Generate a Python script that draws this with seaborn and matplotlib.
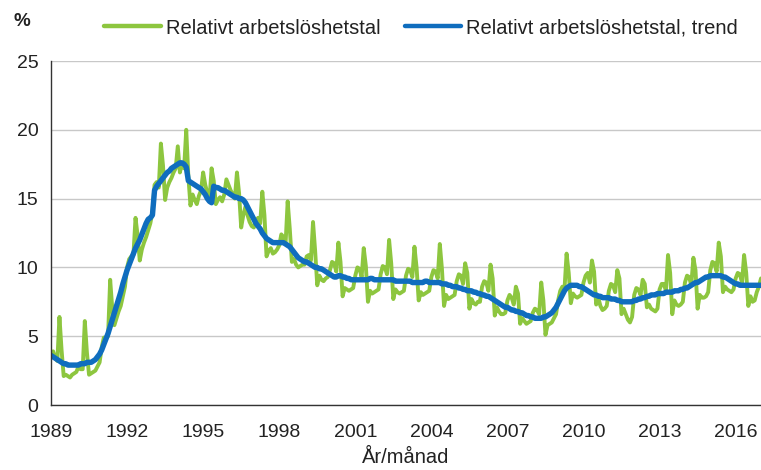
import matplotlib
matplotlib.use("Agg")
import matplotlib.pyplot as plt
from matplotlib import font_manager
import seaborn as sns
import numpy as np
import pandas as pd
from matplotlib.ticker import MultipleLocator, FuncFormatter

# ---------------- data (monthly, Jan 1989 - Jan 2017) ----------------
raw_values = [
    3.5, 3.9, 3.4, 3.2, 6.4, 4.0, 2.1, 2.2, 2.1, 2.0, 2.2, 2.3,        # 1989
    2.4, 2.8, 2.6, 2.6, 6.1, 3.8, 2.2, 2.3, 2.4, 2.5, 2.8, 3.1,        # 1990
    4.2, 4.9, 4.9, 5.0, 9.1, 7.0, 5.8, 6.3, 6.8, 7.2, 7.9, 8.6,        # 1991
    10.0, 10.6, 10.8, 10.9, 13.6, 12.3, 10.5, 11.3, 11.8, 12.2, 12.7, 13.2,  # 1992
    14.0, 16.0, 16.2, 15.8, 19.0, 17.4, 14.9, 15.8, 16.2, 16.5, 16.9, 17.2,  # 1993
    18.8, 16.9, 17.6, 17.2, 20.0, 16.6, 14.5, 15.3, 14.9, 14.6, 15.2, 15.6,  # 1994
    16.9, 16.0, 15.4, 14.9, 17.2, 16.3, 14.6, 14.9, 15.1, 14.8, 15.3, 16.4,  # 1995
    16.0, 15.6, 15.3, 15.0, 16.9, 15.4, 12.9, 13.8, 14.4, 13.8, 13.3, 13.0,  # 1996
    12.9, 13.4, 13.6, 13.2, 15.5, 13.8, 10.8, 11.2, 11.4, 11.0, 11.1, 11.3,  # 1997
    11.6, 12.4, 12.2, 11.7, 14.8, 12.8, 10.4, 10.6, 10.2, 10.0, 10.1, 10.2,  # 1998
    10.2, 10.8, 10.9, 10.5, 13.3, 11.2, 8.7, 9.4, 9.1, 9.0, 9.2, 9.3,        # 1999
    9.8, 10.4, 10.3, 9.7, 11.8, 10.4, 7.9, 8.5, 8.4, 8.3, 8.4, 8.5,          # 2000
    9.4, 10.0, 9.9, 9.3, 11.4, 10.1, 7.5, 8.3, 8.1, 8.2, 8.3, 8.4,           # 2001
    9.5, 10.1, 10.0, 9.5, 12.0, 10.3, 7.7, 8.4, 8.2, 8.1, 8.2, 8.3,          # 2002
    9.4, 9.9, 9.8, 9.3, 11.5, 10.0, 7.6, 8.2, 8.0, 8.1, 8.2, 8.3,            # 2003
    9.3, 9.8, 9.7, 9.2, 11.7, 9.9, 7.2, 8.0, 7.7, 7.8, 7.9, 8.0,             # 2004
    9.0, 9.5, 9.4, 8.8, 10.3, 9.6, 7.0, 7.7, 7.4, 7.3, 7.5, 7.5,             # 2005
    8.6, 9.0, 8.9, 8.3, 10.2, 9.2, 6.5, 7.1, 6.8, 6.6, 6.6, 6.7,             # 2006
    7.6, 8.0, 7.8, 7.3, 8.6, 8.1, 5.9, 6.3, 6.1, 5.9, 6.0, 6.1,              # 2007
    6.7, 7.0, 6.9, 6.6, 8.9, 7.6, 5.1, 5.8, 5.9, 6.0, 6.3, 6.6,              # 2008
    7.6, 8.3, 8.6, 8.4, 11.0, 9.6, 7.4, 8.1, 7.9, 7.8, 7.9, 8.0,             # 2009
    8.9, 9.4, 9.6, 8.9, 10.5, 9.7, 7.3, 7.8, 7.2, 6.9, 7.0, 7.2,             # 2010
    8.3, 8.8, 8.7, 8.2, 9.8, 9.2, 6.6, 7.0, 6.6, 6.2, 6.0, 6.4,              # 2011
    8.0, 8.5, 8.4, 8.0, 9.1, 8.8, 7.1, 7.3, 7.0, 6.9, 6.8, 7.0,              # 2012
    8.4, 8.8, 8.8, 8.3, 10.9, 9.6, 6.6, 7.6, 7.3, 7.2, 7.3, 7.5,             # 2013
    8.9, 9.4, 9.3, 8.7, 10.7, 9.8, 7.0, 8.0, 7.8, 7.8, 7.9, 8.2,             # 2014
    9.8, 10.4, 10.3, 9.7, 11.8, 10.8, 8.2, 8.6, 8.4, 8.3, 8.2, 8.4,          # 2015
    9.2, 9.6, 9.5, 8.9, 10.9, 9.6, 7.2, 7.9, 7.5, 7.6, 8.2, 8.6,             # 2016
    9.2,                                                                      # 2017
]

trend_values = [
    3.6, 3.5, 3.4, 3.3, 3.2, 3.1, 3.0, 3.0, 2.9, 2.9, 2.9, 2.9,        # 1989
    2.9, 2.9, 3.0, 3.0, 3.0, 3.1, 3.1, 3.1, 3.2, 3.3, 3.5, 3.7,        # 1990
    4.0, 4.4, 4.8, 5.2, 5.7, 6.2, 6.7, 7.2, 7.7, 8.2, 8.8, 9.3,        # 1991
    9.8, 10.2, 10.6, 11.0, 11.4, 11.7, 12.0, 12.4, 12.8, 13.2, 13.5, 13.6,  # 1992
    13.8, 15.6, 15.9, 16.1, 16.3, 16.5, 16.7, 16.9, 17.0, 17.2, 17.3, 17.4,  # 1993
    17.5, 17.6, 17.6, 17.5, 17.3, 16.3, 16.2, 16.1, 16.0, 15.9, 15.8, 15.7,  # 1994
    15.5, 15.3, 15.0, 14.8, 14.7, 15.9, 15.8, 15.8, 15.7, 15.6, 15.6, 15.5,  # 1995
    15.4, 15.3, 15.2, 15.1, 15.1, 15.0, 15.0, 14.9, 14.7, 14.4, 14.1, 13.8,  # 1996
    13.5, 13.2, 13.0, 12.8, 12.5, 12.3, 12.1, 12.0, 11.9, 11.8, 11.8, 11.8,  # 1997
    11.8, 11.8, 11.8, 11.7, 11.6, 11.5, 11.3, 11.1, 10.9, 10.7, 10.6, 10.5,  # 1998
    10.4, 10.4, 10.3, 10.2, 10.1, 10.0, 10.0, 9.9, 9.9, 9.8, 9.7, 9.6,       # 1999
    9.5, 9.4, 9.3, 9.3, 9.4, 9.4, 9.3, 9.3, 9.2, 9.2, 9.1, 9.1,              # 2000
    9.1, 9.1, 9.1, 9.1, 9.1, 9.1, 9.1, 9.2, 9.2, 9.1, 9.1, 9.1,              # 2001
    9.1, 9.1, 9.1, 9.1, 9.1, 9.1, 9.1, 9.0, 9.0, 9.0, 9.0, 9.0,              # 2002
    9.0, 9.0, 9.0, 8.9, 8.9, 8.9, 8.9, 8.9, 8.9, 9.0, 9.0, 8.9,              # 2003
    8.9, 8.9, 8.9, 8.9, 8.9, 8.8, 8.8, 8.8, 8.7, 8.7, 8.6, 8.6,              # 2004
    8.6, 8.5, 8.5, 8.4, 8.4, 8.3, 8.3, 8.3, 8.2, 8.2, 8.1, 8.1,              # 2005
    8.0, 8.0, 7.9, 7.9, 7.8, 7.7, 7.6, 7.5, 7.4, 7.3, 7.2, 7.1,              # 2006
    7.1, 7.0, 6.9, 6.9, 6.8, 6.8, 6.7, 6.7, 6.6, 6.5, 6.5, 6.4,              # 2007
    6.4, 6.3, 6.3, 6.3, 6.3, 6.4, 6.4, 6.5, 6.6, 6.7, 6.9, 7.1,              # 2008
    7.4, 7.7, 8.0, 8.3, 8.5, 8.6, 8.7, 8.7, 8.7, 8.7, 8.6, 8.6,              # 2009
    8.5, 8.4, 8.3, 8.2, 8.1, 8.0, 8.0, 7.9, 7.9, 7.8, 7.8, 7.8,              # 2010
    7.8, 7.7, 7.7, 7.7, 7.6, 7.6, 7.5, 7.5, 7.5, 7.5, 7.5, 7.5,              # 2011
    7.6, 7.6, 7.7, 7.7, 7.8, 7.8, 7.9, 7.9, 8.0, 8.0, 8.0, 8.1,              # 2012
    8.1, 8.1, 8.1, 8.2, 8.2, 8.2, 8.2, 8.3, 8.3, 8.3, 8.4, 8.4,              # 2013
    8.5, 8.5, 8.6, 8.7, 8.8, 8.9, 8.9, 9.0, 9.1, 9.2, 9.3, 9.3,              # 2014
    9.4, 9.4, 9.4, 9.4, 9.4, 9.4, 9.3, 9.3, 9.2, 9.1, 9.0, 8.9,              # 2015
    8.8, 8.8, 8.7, 8.7, 8.7, 8.7, 8.7, 8.7, 8.7, 8.7, 8.7, 8.7,              # 2016
    8.7,                                                                      # 2017
]

start_month = "1989-01"
series_names = ["Relativt arbetslöshetstal", "Relativt arbetslöshetstal, trend"]
xtick_labels = ["1989", "1992", "1995", "1998", "2001", "2004",
                "2007", "2010", "2013", "2016"]
ytick_values = [0, 5, 10, 15, 20, 25]
y_unit = "%"
x_title = "År/månad"

# ---------------- build table ----------------
dates = pd.date_range(start_month, periods=len(raw_values), freq="MS")
t = dates.year + (dates.month - 1) / 12.0
df = pd.DataFrame({
    "t": np.concatenate([t, t]),
    "value": raw_values + trend_values,
    "series": [series_names[0]] * len(raw_values) + [series_names[1]] * len(trend_values),
})

# ---------------- style ----------------
sns.set_theme(style="white")
available = {f.name for f in font_manager.fontManager.ttflist}
fam = "Liberation Sans Narrow" if "Liberation Sans Narrow" in available else "Liberation Sans"
plt.rcParams["font.family"] = [fam, "DejaVu Sans"]

green = "#8DC63F"
blue = "#0F6DBE"
txt = "#222222"

fig = plt.figure(figsize=(7.61, 4.70), dpi=100)
ax = fig.add_axes([51.0 / 761, 1 - 405 / 470, 1 - 51.0 / 761, (405 - 61) / 470])

sns.lineplot(data=df, x="t", y="value", hue="series",
             palette={series_names[0]: green, series_names[1]: blue},
             ax=ax, legend=False, estimator=None, sort=False)
lines = ax.get_lines()
lines[0].set_linewidth(2.8)
lines[1].set_linewidth(3.9)
lines[1].set_solid_capstyle("round")

ax.set_xlim(1989, 2017.0)
ax.set_ylim(0, 25)
ax.set_yticks(ytick_values)
ax.set_yticklabels([str(v) for v in ytick_values])
ax.xaxis.set_major_locator(MultipleLocator(1))
label_years = [int(s) for s in xtick_labels]
ax.xaxis.set_major_formatter(
    FuncFormatter(lambda v, p: str(int(round(v))) if int(round(v)) in label_years else ""))

for s in ["top", "right"]:
    ax.spines[s].set_visible(False)
for s in ["left", "bottom"]:
    ax.spines[s].set_color("#333333")
    ax.spines[s].set_linewidth(1.0)

ax.grid(axis="y", color="#C8C8C8", linewidth=1.0)
ax.grid(axis="x", visible=False)
ax.set_axisbelow(True)
ax.tick_params(axis="both", which="major", direction="out", length=5, width=1,
               color="#333333", labelsize=14, labelcolor=txt)
ax.tick_params(axis="x", pad=9)
ax.tick_params(axis="y", pad=4)
ax.set_xlabel(x_title, fontsize=14.5, color=txt, labelpad=5)
ax.set_ylabel("")

fig.text(22 / 761, 1 - 22 / 470, y_unit, fontsize=13.5, fontweight="bold",
         ha="center", va="center", color=txt)

handles = [plt.Line2D([], [], color=green, linewidth=3.2),
           plt.Line2D([], [], color=blue, linewidth=3.2)]
fig.legend(handles, series_names, loc="center", bbox_to_anchor=(421 / 761, 1 - 28 / 470),
           ncol=2, frameon=False, fontsize=14.5, handlelength=2.8, handletextpad=0.25,
           columnspacing=1.2, labelcolor=txt)

fig.savefig("out.png", dpi=100)
